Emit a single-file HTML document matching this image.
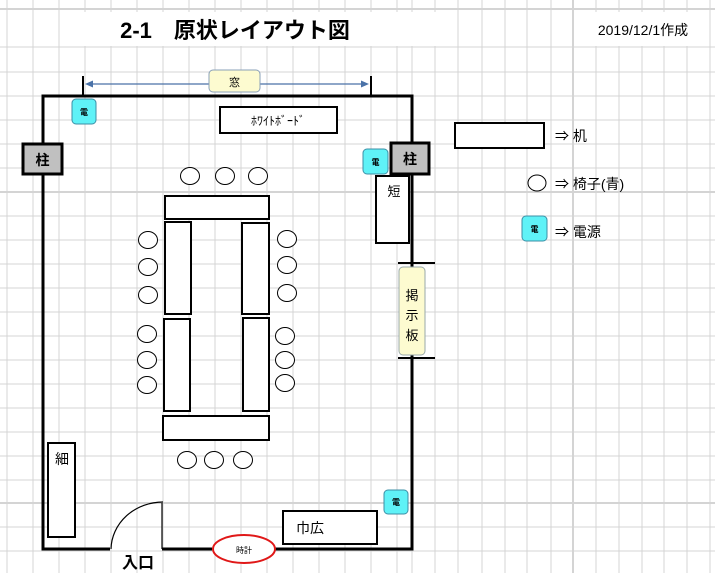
<!DOCTYPE html>
<html><head><meta charset="utf-8"><style>
html,body{margin:0;padding:0;background:#fff;}
svg{display:block;}
text{font-family:"Liberation Sans","Noto Sans CJK JP",sans-serif;fill:#000;}
</style></head><body>
<svg width="715" height="573" viewBox="0 0 715 573" xmlns="http://www.w3.org/2000/svg">
<g stroke="#d4d4d4" stroke-width="1">
<line x1="7" y1="0" x2="7" y2="573"/><line x1="33" y1="0" x2="33" y2="573"/>
<line x1="59" y1="0" x2="59" y2="573"/><line x1="85" y1="0" x2="85" y2="573"/>
<line x1="111" y1="0" x2="111" y2="573"/><line x1="137" y1="0" x2="137" y2="573"/>
<line x1="163" y1="0" x2="163" y2="573"/><line x1="189" y1="0" x2="189" y2="573"/>
<line x1="215" y1="0" x2="215" y2="573"/><line x1="241" y1="0" x2="241" y2="573"/>
<line x1="267" y1="0" x2="267" y2="573"/><line x1="293" y1="0" x2="293" y2="573"/>
<line x1="319" y1="0" x2="319" y2="573"/><line x1="345" y1="0" x2="345" y2="573"/>
<line x1="371" y1="0" x2="371" y2="573"/><line x1="397" y1="0" x2="397" y2="573"/>
<line x1="412" y1="0" x2="412" y2="573"/><line x1="435" y1="0" x2="435" y2="573"/>
<line x1="458" y1="0" x2="458" y2="573"/><line x1="482" y1="0" x2="482" y2="573"/>
<line x1="505" y1="0" x2="505" y2="573"/><line x1="527" y1="0" x2="527" y2="573"/>
<line x1="551" y1="0" x2="551" y2="573"/><line x1="573" y1="0" x2="573" y2="573" stroke-width="2"/>
<line x1="596" y1="0" x2="596" y2="573"/><line x1="619" y1="0" x2="619" y2="573"/>
<line x1="642" y1="0" x2="642" y2="573"/><line x1="664" y1="0" x2="664" y2="573"/>
<line x1="687" y1="0" x2="687" y2="573"/><line x1="710" y1="0" x2="710" y2="573"/>
<line x1="0" y1="9" x2="715" y2="9" stroke-width="2"/><line x1="0" y1="47" x2="715" y2="47"/>
<line x1="0" y1="72" x2="715" y2="72"/><line x1="0" y1="96" x2="715" y2="96"/>
<line x1="0" y1="120" x2="715" y2="120"/><line x1="0" y1="144" x2="715" y2="144"/>
<line x1="0" y1="168" x2="715" y2="168"/><line x1="0" y1="192" x2="715" y2="192" stroke-width="2"/>
<line x1="0" y1="216" x2="715" y2="216"/><line x1="0" y1="240" x2="715" y2="240"/>
<line x1="0" y1="264" x2="715" y2="264"/><line x1="0" y1="288" x2="715" y2="288"/>
<line x1="0" y1="312" x2="715" y2="312"/><line x1="0" y1="336" x2="715" y2="336"/>
<line x1="0" y1="360" x2="715" y2="360"/><line x1="0" y1="384" x2="715" y2="384"/>
<line x1="0" y1="408" x2="715" y2="408"/><line x1="0" y1="432" x2="715" y2="432"/>
<line x1="0" y1="456" x2="715" y2="456"/><line x1="0" y1="480" x2="715" y2="480"/>
<line x1="0" y1="503" x2="715" y2="503" stroke-width="2"/><line x1="0" y1="527" x2="715" y2="527"/>
<line x1="0" y1="551" x2="715" y2="551"/>
</g>
<rect x="60" y="12" width="380" height="34" fill="#fff"/>
<rect x="575" y="12" width="134" height="34" fill="#fff"/>
<text x="235" y="38" font-size="22" font-weight="bold" text-anchor="middle">2-1　原状レイアウト図</text>
<text x="643" y="35" font-size="14" text-anchor="middle">2019/12/1作成</text>

<g stroke="#000" stroke-width="2"><line x1="83" y1="76" x2="83" y2="96"/><line x1="371" y1="76" x2="371" y2="96"/></g>
<line x1="88" y1="84" x2="366" y2="84" stroke="#4a72a8" stroke-width="1.2"/>
<polygon points="85,84 93,80.5 93,87.5" fill="#4a72a8"/>
<polygon points="369,84 361,80.5 361,87.5" fill="#4a72a8"/>
<rect x="209" y="70" width="51" height="22" rx="4" fill="#fdfbd0" stroke="#8aa0b8"/>
<text x="234.5" y="86" font-size="11" text-anchor="middle">窓</text>

<g stroke="#000" stroke-width="3" fill="none">
<polyline points="43,143 43,96 412,96 412,143"/>
<polyline points="43,174 43,549 110,549"/>
<line x1="162" y1="549" x2="212" y2="549"/>
<polyline points="275,549 412,549 412,174"/>
</g>
<rect x="23" y="144" width="39" height="30" fill="#c0c0c0" stroke="#000" stroke-width="3"/>
<text x="42.5" y="165" font-size="14" font-weight="bold" text-anchor="middle">柱</text>
<rect x="391" y="143" width="38" height="31" fill="#c0c0c0" stroke="#000" stroke-width="3"/>
<text x="410" y="164" font-size="14" font-weight="bold" text-anchor="middle">柱</text>

<g fill="#5ff2f7" stroke="#3c8fa6" stroke-width="1">
<rect x="72" y="99" width="24" height="25" rx="4"/>
<rect x="363" y="149" width="25" height="25" rx="4"/>
<rect x="384" y="490" width="24" height="24" rx="4"/>
<rect x="522" y="216" width="25" height="25" rx="4"/>
</g>
<g font-size="8" text-anchor="middle" font-weight="bold">
<text x="84" y="115">電</text><text x="375.5" y="165">電</text>
<text x="396" y="505">電</text><text x="534.5" y="232">電</text>
</g>

<rect x="220" y="107" width="117" height="26" fill="#fff" stroke="#000" stroke-width="2"/>
<text x="278" y="125" font-size="12" text-anchor="middle">ﾎﾜｲﾄﾎﾞｰﾄﾞ</text>
<rect x="376" y="176" width="33" height="67" fill="#fff" stroke="#000" stroke-width="2"/>
<text x="394" y="196" font-size="13" text-anchor="middle">短</text>
<g stroke="#000" stroke-width="2"><line x1="398" y1="263" x2="435" y2="263"/><line x1="398" y1="358" x2="435" y2="358"/></g>
<rect x="399" y="267" width="26" height="88" rx="4" fill="#fdfbd0" stroke="#9aa"/>
<g font-size="13" text-anchor="middle"><text x="412" y="300">掲</text><text x="412" y="320">示</text><text x="412" y="340">板</text></g>

<g fill="#fff" stroke="#000" stroke-width="2">
<rect x="165" y="196" width="104" height="23"/>
<rect x="165" y="222" width="26" height="92"/>
<rect x="164" y="319" width="26" height="92"/>
<rect x="242" y="223" width="27" height="91"/>
<rect x="243" y="318" width="26" height="93"/>
<rect x="163" y="416" width="106" height="24"/>
<rect x="48" y="443" width="27" height="94"/>
<rect x="283" y="511" width="94" height="33"/>
<rect x="455" y="123" width="89" height="25"/>
</g>
<text x="62" y="464" font-size="14" text-anchor="middle">細</text>
<text x="310" y="533" font-size="14" text-anchor="middle">巾広</text>

<g fill="#fff" stroke="#000" stroke-width="1">
<ellipse cx="190" cy="176" rx="9.5" ry="8.5"/><ellipse cx="225" cy="176" rx="9.5" ry="8.5"/><ellipse cx="258" cy="176" rx="9.5" ry="8.5"/>
<ellipse cx="148" cy="240" rx="9.5" ry="8.5"/><ellipse cx="148" cy="267" rx="9.5" ry="8.5"/><ellipse cx="148" cy="295" rx="9.5" ry="8.5"/>
<ellipse cx="147" cy="334" rx="9.5" ry="8.5"/><ellipse cx="147" cy="360" rx="9.5" ry="8.5"/><ellipse cx="147" cy="385" rx="9.5" ry="8.5"/>
<ellipse cx="287" cy="239" rx="9.5" ry="8.5"/><ellipse cx="287" cy="265" rx="9.5" ry="8.5"/><ellipse cx="287" cy="293" rx="9.5" ry="8.5"/>
<ellipse cx="285" cy="336" rx="9.5" ry="8.5"/><ellipse cx="285" cy="360" rx="9.5" ry="8.5"/><ellipse cx="285" cy="383" rx="9.5" ry="8.5"/>
<ellipse cx="187" cy="460" rx="9.5" ry="8.5"/><ellipse cx="214" cy="460" rx="9.5" ry="8.5"/><ellipse cx="243" cy="460" rx="9.5" ry="8.5"/>
<ellipse cx="537" cy="183" rx="9" ry="8"/>
</g>

<path d="M111,549 A52,48 0 0 1 163,502" fill="none" stroke="#000" stroke-width="1.2"/>
<line x1="162" y1="503" x2="162" y2="549" stroke="#000" stroke-width="1.2"/>
<text x="138" y="568" font-size="16" font-weight="bold" text-anchor="middle">入口</text>
<ellipse cx="244" cy="549" rx="31" ry="14" fill="#fff" stroke="#e01818" stroke-width="2"/>
<text x="244" y="553" font-size="8" text-anchor="middle">時計</text>

<g font-size="14"><text x="555" y="141">⇒ 机</text><text x="555" y="189">⇒ 椅子(青)</text><text x="555" y="237">⇒ 電源</text></g>
</svg>
</body></html>
